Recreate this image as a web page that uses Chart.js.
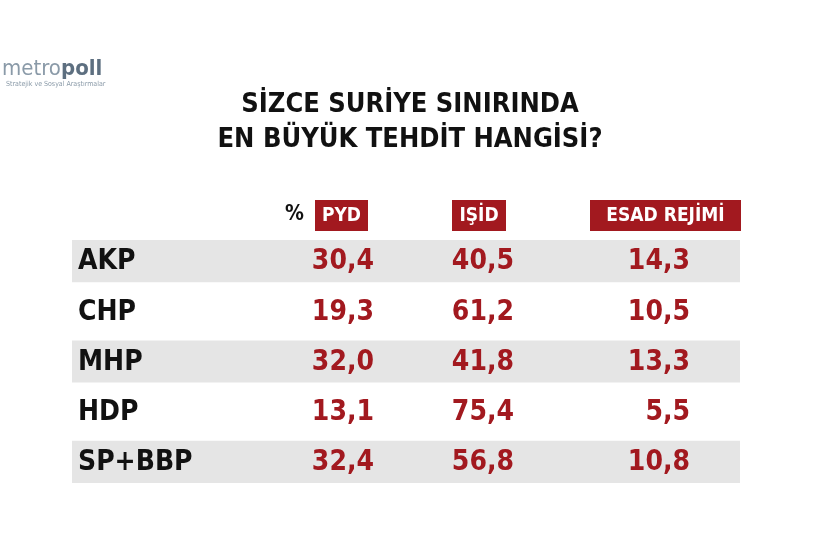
<!DOCTYPE html>
<html><head><meta charset="utf-8">
<script src="https://cdn.jsdelivr.net/npm/chart.js@4"></script>
<style>html,body{margin:0;padding:0;background:#fff}#w{width:815px;height:555px}</style>
</head><body><div id="w"><canvas id="c"></canvas></div>
<script>
const parties = ["AKP","CHP","MHP","HDP","SP+BBP"];
const columns = ["PYD","IŞİD","ESAD REJİMİ"];
const pyd  = ["30,4","19,3","32,0","13,1","32,4"];
const isid = ["40,5","61,2","41,8","75,4","56,8"];
const esad = ["14,3","10,5","13,3","5,5","10,8"];
const band = [1,0,1,0,1];

const RED="#a2191f";
const F="'DejaVu Sans Condensed','DejaVu Sans',sans-serif";
const textPlugin={id:'txt',afterDatasetsDraw(ch){
  const c=ch.ctx,y=ch.scales.y,x=ch.scales.x;
  const L=x.left;
  c.save();
  c.textBaseline='alphabetic';c.textAlign='left';
  c.font="22px "+F;c.fillStyle="#8a9aa8";c.fillText("metro",2,75);
  const mw=c.measureText("metro").width;
  c.font="bold 22px "+F;c.fillStyle="#5d6f80";c.fillText("poll",2+mw,75);
  c.font="7px "+F;c.fillStyle="#8a9aa8";c.fillText("Stratejik ve Sosyal Araştırmalar",6,86);
  c.textAlign='center';c.textBaseline='middle';c.fillStyle="#111";
  c.font="bold 27px "+F;
  c.fillText("SİZCE SURİYE SINIRINDA",410,105);
  c.fillText("EN BÜYÜK TEHDİT HANGİSİ?",410,140);
  const hy=215;
  c.font="bold 21px "+F;c.fillStyle="#111";c.textAlign='right';c.fillText("%",304,hy);
  const boxes=[[315,368],[452,506],[590,741]];
  boxes.forEach((b,i)=>{c.fillStyle=RED;c.fillRect(b[0],200,b[1]-b[0],31);
    c.fillStyle="#fff";c.textAlign='center';c.font="bold 19px "+F;c.fillText(columns[i],(b[0]+b[1])/2,hy+1);});
  parties.forEach((p,i)=>{
    const py=y.getPixelForValue(i)+1;
    c.textAlign='left';c.fillStyle="#111";c.font="bold 28px "+F;c.fillText(p,L+6,py);
    c.textAlign='right';c.fillStyle=RED;
    c.fillText(pyd[i],374,py);c.fillText(isid[i],514,py);c.fillText(esad[i],690,py);
  });
  c.restore();
}};
new Chart(document.getElementById('c'),{
  type:'bar',
  data:{labels:parties,datasets:[{data:band,backgroundColor:"#e5e5e5",categoryPercentage:1,barPercentage:0.84,borderWidth:0}]},
  options:{indexAxis:'y',responsive:true,maintainAspectRatio:false,animation:false,
    layout:{padding:{left:72,right:75,top:236,bottom:68}},
    plugins:{legend:{display:false},tooltip:{enabled:false},title:{display:false}},
    scales:{x:{display:false,min:0,max:1},y:{display:false}}},
  plugins:[textPlugin]
});
</script></body></html>
